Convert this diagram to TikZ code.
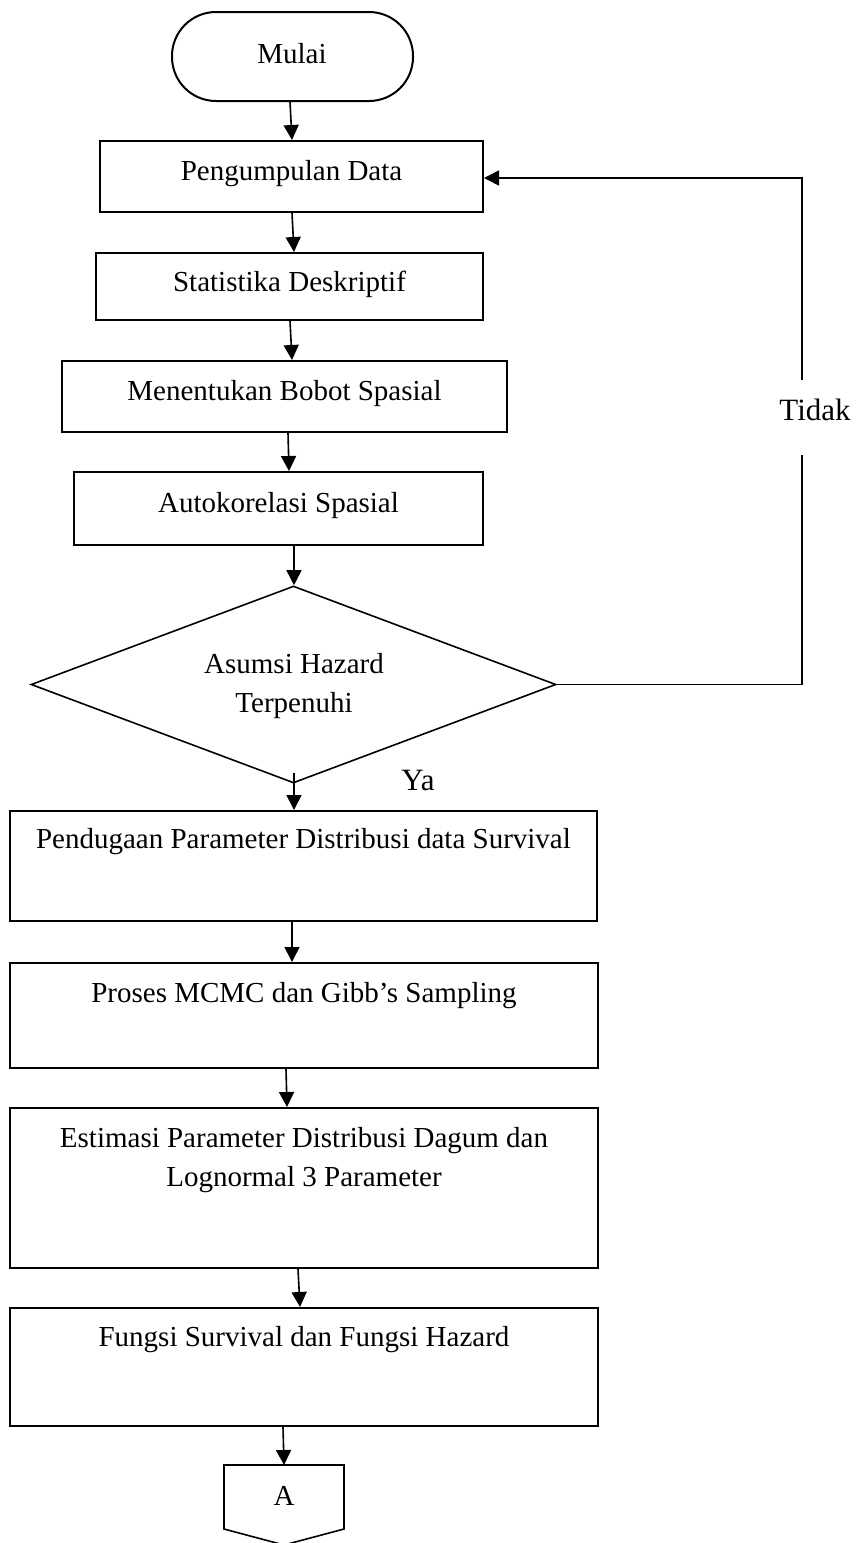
\documentclass[tikz,border=0pt]{standalone}
\usepackage{fontspec}
\setmainfont{Liberation Serif}
\usetikzlibrary{arrows.meta,shapes.geometric}
\begin{document}
\begin{tikzpicture}[x=0.5pt,y=-0.5pt,
  every node/.style={font=\fontsize{14.5pt}{19.5pt}\selectfont},
  box/.style={draw, rectangle, line width=1pt, inner sep=0pt},
  txt/.style={anchor=base, inner sep=0pt},
  lbl/.style={anchor=base, inner sep=0pt, font=\fontsize{15.5pt}{19.5pt}\selectfont},
  ln/.style={line width=0.8pt},
  arr/.style={line width=0.8pt, -{Triangle[length=7.5pt,width=7.5pt]}}]

\useasboundingbox (0,0) rectangle (858,1543);

% boxes
\node[box, rounded corners=22pt, minimum width=120.5pt, minimum height=44.5pt] (M) at (292.5,56.5) {};
\node[txt] (tM) at (292,63) {Mulai};
\node[box, minimum width=191.5pt, minimum height=35.5pt] (P1) at (291.5,176.5) {};
\node[txt] (t1) at (291.5,180) {Pengumpulan Data};
\node[box, minimum width=193.5pt, minimum height=33.5pt] (P2) at (289.5,286.5) {};
\node[txt] (t2) at (289.5,291) {Statistika Deskriptif};
\node[box, minimum width=222.5pt, minimum height=35.5pt] (P3) at (284.5,396.5) {};
\node[txt] (t3) at (284.5,400) {Menentukan Bobot Spasial};
\node[box, minimum width=204.5pt, minimum height=36.5pt] (P4) at (278.5,508.5) {};
\node[txt] (t4) at (278.5,512) {Autokorelasi Spasial};
\node[draw, diamond, ln, inner sep=0pt, minimum width=262.5pt, minimum height=98.5pt] (D) at (293.5,684.5) {};
\node[align=center, inner sep=0pt] (tD) at (294,686) {Asumsi Hazard\\Terpenuhi};
\node[box, minimum width=293.5pt, minimum height=55pt] (P5) at (303.5,866) {};
\node[txt] (t5) at (303.5,848) {Pendugaan Parameter Distribusi data Survival};
\node[box, minimum width=294pt, minimum height=52.5pt] (P6) at (304,1015.5) {};
\node[txt] (t6) at (304,1002) {Proses MCMC dan Gibb’s Sampling};
\node[box, minimum width=294pt, minimum height=80pt] (P7) at (304,1188) {};
\node[align=center, inner sep=0pt] (t7) at (304,1160) {Estimasi Parameter Distribusi Dagum dan\\Lognormal 3 Parameter};
\node[box, minimum width=294pt, minimum height=59pt] (P8) at (304,1367) {};
\node[txt] (t8) at (304,1346) {Fungsi Survival dan Fungsi Hazard};

% off-page connector
\coordinate (Atop) at (284,1465);
\draw[ln] (224,1465) -- (344,1465) -- (344,1529) -- (284,1545) -- (224,1529) -- cycle;
\node[txt] (tA) at (284,1505) {A};

% labels
\node[lbl] (ya) at (418,790) {Ya};
\node[lbl] (tidak) at (815,420) {Tidak};

% connectors
\draw[arr] ([xshift=-1.25pt]M.south) -- ([xshift=0.25pt]P1.north);
\draw[arr] ([xshift=0.25pt]P1.south) -- ([xshift=2.25pt]P2.north);
\draw[arr] ([xshift=0.25pt]P2.south) -- ([xshift=3.75pt]P3.north);
\draw[arr] ([xshift=1.75pt]P3.south) -- ([xshift=5.25pt]P4.north);
\draw[arr] ([xshift=7.75pt]P4.south) -- ([xshift=0.25pt]D.north);
\draw[arr] ([xshift=0.25pt,yshift=5.5pt]D.south) -- ([xshift=-4.75pt]P5.north);
\draw[arr] ([xshift=-5.75pt]P5.south) -- ([xshift=-6pt]P6.north);
\draw[arr] ([xshift=-9pt]P6.south) -- ([xshift=-8.5pt]P7.north);
\draw[arr] ([xshift=-3pt]P7.south) -- ([xshift=-2pt]P8.north);
\draw[arr] ([xshift=-10.5pt]P8.south) -- (Atop);

% feedback loop (Tidak)
\coordinate (c1) at (802,686);
\coordinate (g1) at (802,380);
\coordinate (g2) at (802,455);
\draw[ln] (D.east) -- (D.east -| c1) -- (g2);
\draw[arr] (g1) |- ([yshift=-0.75pt]P1.east);
\end{tikzpicture}
\end{document}
